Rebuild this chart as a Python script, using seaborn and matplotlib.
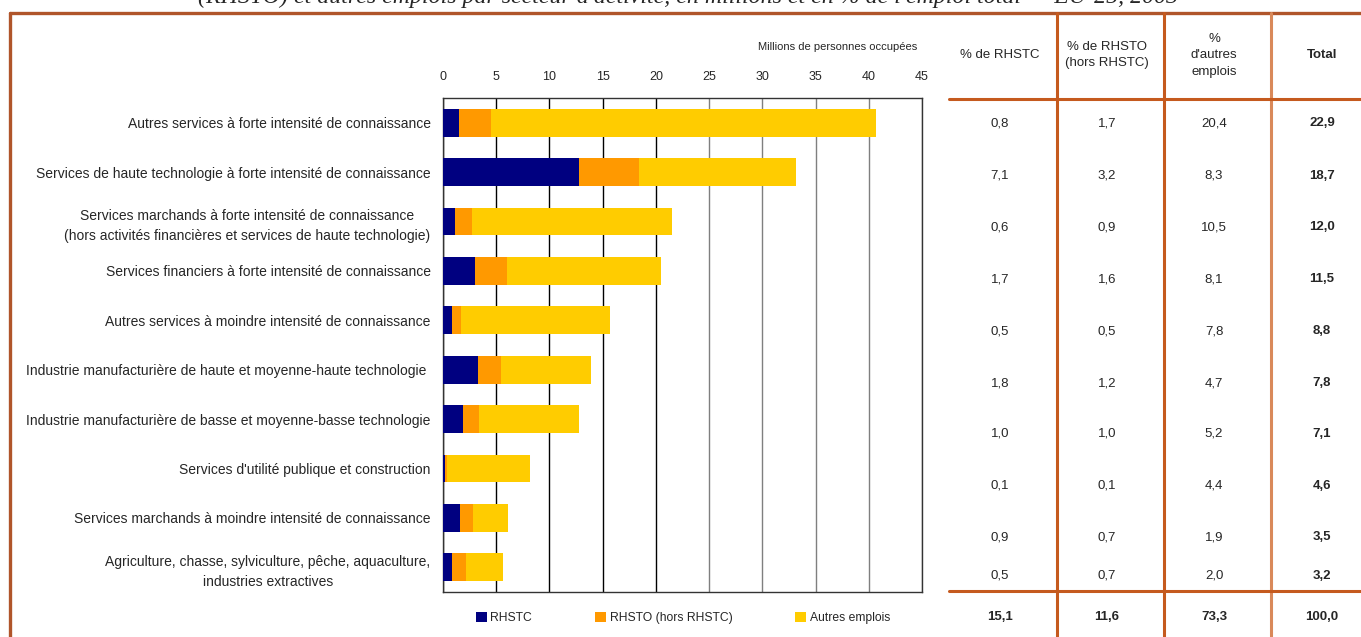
import numpy as np
import pandas as pd
import matplotlib
matplotlib.use("Agg")
import matplotlib.pyplot as plt
import seaborn as sns
from matplotlib.lines import Line2D
from matplotlib.patches import Patch

# ---------------- data ----------------
sectors = [
    "Autres services à forte intensité de connaissance",
    "Services de haute technologie à forte intensité de connaissance",
    "Services marchands à forte intensité de connaissance\n(hors activités financières et services de haute technologie)",
    "Services financiers à forte intensité de connaissance",
    "Autres services à moindre intensité de connaissance",
    "Industrie manufacturière de haute et moyenne-haute technologie ",
    "Industrie manufacturière de basse et moyenne-basse technologie",
    "Services d'utilité publique et construction",
    "Services marchands à moindre intensité de connaissance",
    "Agriculture, chasse, sylviculture, pêche, aquaculture,\nindustries extractives",
]
rhstc = [1.5, 12.8, 1.1, 3.0, 0.85, 3.3, 1.9, 0.15, 1.6, 0.85]
rhsto = [3.0, 5.6, 1.6, 3.0, 0.85, 2.15, 1.5, 0.25, 1.2, 1.3]
autres = [36.2, 14.8, 18.8, 14.5, 14.0, 8.45, 9.4, 7.8, 3.3, 3.5]

series_names = ["RHSTC", "RHSTO (hors RHSTC)", "Autres emplois"]
x_ticks = [0, 5, 10, 15, 20, 25, 30, 35, 40, 45]

pct_rhstc = [0.8, 7.1, 0.6, 1.7, 0.5, 1.8, 1.0, 0.1, 0.9, 0.5]
pct_rhsto = [1.7, 3.2, 0.9, 1.6, 0.5, 1.2, 1.0, 0.1, 0.7, 0.7]
pct_autres = [20.4, 8.3, 10.5, 8.1, 7.8, 4.7, 5.2, 4.4, 1.9, 2.0]
pct_total = [22.9, 18.7, 12.0, 11.5, 8.8, 7.8, 7.1, 4.6, 3.5, 3.2]
totals_row = [15.1, 11.6, 73.3, 100.0]

table_headers = ["% de RHSTC", "% de RHSTO\n(hors RHSTC)", "%\nd'autres\nemplois", "Total"]
axis_title = "Millions de personnes occupées"
title = ("(RHSTO) et autres emplois par secteur d'activité, en millions et en % "
         "de l'emploi total — EU-25, 2003")

# ---------------- style ----------------
sns.set_style("white")
plt.rcParams["font.family"] = ["Liberation Sans", "DejaVu Sans"]

W, H = 1361, 637
fig = plt.figure(figsize=(W / 100, H / 100), dpi=100)


def fx(px):
    return px / W


def fy(py):
    return 1 - py / H


col_navy, col_orange, col_yellow = "#000080", "#FF9900", "#FFCC00"
border = "#C55A1E"

ax = fig.add_axes([fx(443), fy(592), fx(922) - fx(443), fy(98) - fy(592)])

df = pd.DataFrame({"secteur": sectors, "RHSTC": rhstc, "RHSTO": rhsto, "Autres": autres})
df["cum1"] = df["RHSTC"]
df["cum2"] = df["cum1"] + df["RHSTO"]
df["cum3"] = df["cum2"] + df["Autres"]

bw = 0.56
sns.barplot(data=df, y="secteur", x="cum3", color=col_yellow, saturation=1,
            width=bw, orient="h", ax=ax, zorder=3, linewidth=0)
sns.barplot(data=df, y="secteur", x="cum2", color=col_orange, saturation=1,
            width=bw, orient="h", ax=ax, zorder=4, linewidth=0)
sns.barplot(data=df, y="secteur", x="cum1", color=col_navy, saturation=1,
            width=bw, orient="h", ax=ax, zorder=5, linewidth=0)

ax.set_xlim(0, 45)
ax.set_ylim(9.5, -0.5)
ax.set_xlabel("")
ax.set_ylabel("")

ax.xaxis.tick_top()
ax.set_xticks(x_ticks)
ax.set_xticklabels([str(t) for t in x_ticks], fontsize=9)
ax.tick_params(axis="x", length=0, pad=11)
ax.xaxis.grid(True, linewidth=1.0)
ax.set_axisbelow(True)
for t, gl in zip(x_ticks, ax.xaxis.get_gridlines()):
    gl.set_color("#000000" if t <= 20 else "#7f7f7f")
    gl.set_zorder(1)

ax.set_yticks(range(len(sectors)))
ax.set_yticklabels(sectors, fontsize=10)
for lab in ax.get_yticklabels():
    lab.set_multialignment("center")
    lab.set_linespacing(1.55)
ax.tick_params(axis="y", length=0, pad=9)
ax.set_yticks(np.arange(0.5, len(sectors) - 1, 1.0), minor=True)
ax.tick_params(axis="y", which="minor", direction="in", length=3, color="#555555", width=1)

for s in ax.spines.values():
    s.set_visible(True)
    s.set_color("#333333")
    s.set_linewidth(1.0)

# legend
handles = [Patch(facecolor=c, edgecolor="none") for c in (col_navy, col_orange, col_yellow)]
fig.legend(handles, series_names, loc="center", bbox_to_anchor=(fx(683), fy(618)),
           ncol=3, frameon=False, fontsize=8.7, handlelength=0.9, handleheight=0.9,
           handletextpad=0.3, columnspacing=5.2)

# axis title
fig.text(fx(917), fy(47), axis_title, ha="right", va="center", fontsize=8)

# title, cut at the top edge as in the original
fig.text(fx(688), fy(3), title, ha="center", va="baseline", fontsize=17.2,
         family=["Liberation Serif", "DejaVu Serif"], style="italic")

# ---------------- table ----------------
def fmt(v):
    return f"{v:.1f}".replace(".", ",")

col_x = [1000, 1107, 1214, 1322]
row_y = [123, 176, 227, 279, 331, 383, 434, 486, 537, 576]
total_y = 617

for i, h in enumerate(table_headers):
    fig.text(fx(col_x[i]), fy(55), h, ha="center", va="center", fontsize=9.5,
             linespacing=1.5, fontweight="bold" if h == "Total" else "normal")

for j, y in enumerate(row_y):
    vals = [pct_rhstc[j], pct_rhsto[j], pct_autres[j], pct_total[j]]
    for i, v in enumerate(vals):
        fig.text(fx(col_x[i]), fy(y), fmt(v), ha="center", va="center", fontsize=9.5,
                 fontweight="bold" if i == 3 else "normal")

for i, v in enumerate(totals_row):
    fig.text(fx(col_x[i]), fy(total_y), fmt(v), ha="center", va="center", fontsize=9.5,
             fontweight="bold")

# frame lines
def hline(y, x0, x1, lw=2.2, c=border):
    fig.add_artist(Line2D([fx(x0), fx(x1)], [fy(y), fy(y)], color=c, lw=lw,
                          transform=fig.transFigure))


def vline(x, y0, y1, lw=2.2, c=border):
    fig.add_artist(Line2D([fx(x), fx(x)], [fy(y0), fy(y1)], color=c, lw=lw,
                          transform=fig.transFigure))

hline(13, 10, W, lw=2.4, c="#B0552A")
vline(10, 13, H, lw=2.4, c="#B0552A")
for x in (1057, 1164):
    vline(x, 13, H)
vline(1271, 13, H, c="#D9895A")
hline(99, 949, W)
hline(591, 949, W)

fig.savefig("out.png", dpi=100)
